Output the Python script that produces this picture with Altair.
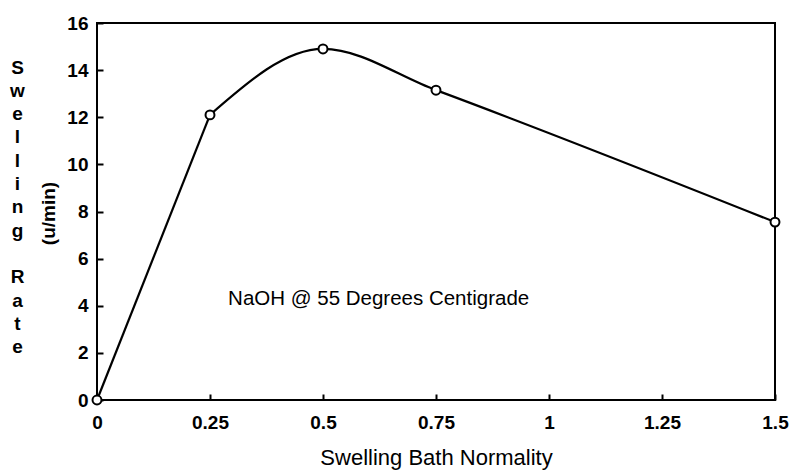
import altair as alt
import pandas as pd

# ---- data ----
normality = [0, 0.25, 0.5, 0.75, 1.5]
swelling_rate = [0, 12.1, 14.9, 13.15, 7.55]

x_ticks = [0, 0.25, 0.5, 0.75, 1, 1.25, 1.5]
y_ticks = [0, 2, 4, 6, 8, 10, 12, 14, 16]

ann_text = ["NaOH @ 55 Degrees Centigrade"]
ann_x = [0.29]
ann_y = [4.3]

x_title = "Swelling Bath Normality"
y_title_letters = ["S", "w", "e", "l", "l", "i", "n", "g", "\u200b", "R", "a", "t", "e"]
y_unit = "(u/min)"

df = pd.DataFrame({"x": normality, "y": swelling_rate})
ann = pd.DataFrame({"x": ann_x, "y": ann_y, "t": ann_text})

FONT = "Liberation Sans"

xs = alt.Scale(domain=[0, 1.5], nice=False, zero=False)
ys = alt.Scale(domain=[0, 16], nice=False, zero=False)

x_main = alt.X(
    "x:Q", scale=xs,
    axis=alt.Axis(
        orient="bottom", values=x_ticks, format=".2~f", domain=False,
        ticks=False, tickSize=0, grid=False, labelFont=FONT, labelFontSize=19,
        labelFontWeight="bold", labelColor="black", labelPadding=13,
        labelFlush=False,
        title=x_title, titleFont=FONT, titleFontSize=22, titleFontWeight="normal",
        titleColor="black", titleBaseline="alphabetic", titleY=64,
    ),
)
y_main = alt.Y(
    "y:Q", scale=ys,
    axis=alt.Axis(
        orient="left", values=y_ticks, domain=False, ticks=False, tickSize=0,
        grid=False, labelFont=FONT, labelFontSize=19, labelFontWeight="bold",
        labelColor="black", labelPadding=9, labelFlush=False,
        title=y_title_letters, titleAngle=0, titleFont=FONT, titleFontSize=19,
        titleFontWeight="bold", titleColor="black", titleLineHeight=23.3,
        titleAlign="center", titleBaseline="top", titleX=-80, titleY=35,
    ),
)

xn = alt.X("x:Q", scale=xs, axis=None)
yn = alt.Y("y:Q", scale=ys, axis=None)

base = alt.Chart(df)

rise = base.transform_filter(alt.datum.x <= 0.25).mark_line(
    color="black", strokeWidth=2.2
).encode(x=x_main, y=y_main)

smooth = base.transform_filter(alt.datum.x >= 0.25).mark_line(
    color="black", strokeWidth=2.2, interpolate="monotone"
).encode(x=xn, y=yn)

pts = base.mark_point(
    shape="circle", filled=True, fill="white", stroke="black",
    strokeWidth=2, size=80, opacity=1
).encode(x=xn, y=yn)

label = alt.Chart(ann).mark_text(
    font=FONT, fontSize=20.5, color="black", align="left", baseline="middle"
).encode(x=xn, y=yn, text="t:N")

# inward ticks: a second, shared-scale axis pulled inside the frame
ticks_layer = base.mark_point(opacity=0).encode(
    x=alt.X("x:Q", scale=xs, axis=alt.Axis(
        orient="bottom", offset=-6, values=x_ticks, domain=False, labels=False,
        ticks=True, tickSize=6, tickWidth=2, tickColor="black", grid=False,
        title=None)),
    y=alt.Y("y:Q", scale=ys, axis=alt.Axis(
        orient="left", offset=-6, values=y_ticks, domain=False, labels=False,
        ticks=True, tickSize=6, tickWidth=2, tickColor="black", grid=False,
        title=y_unit, titleAngle=270, titleFont=FONT, titleFontSize=19,
        titleFontWeight="bold", titleColor="black", titleAlign="center",
        titleBaseline="middle", titleX=-55, titleY=190)),
)

chart = alt.layer(rise, smooth, pts, label, ticks_layer).resolve_axis(
    x="independent", y="independent"
).properties(
    width=678, height=377,
    background="white",
    autosize=alt.AutoSizeParams(type="none"),
    padding={"left": 89, "top": 15, "right": 14, "bottom": 70},
).configure_view(stroke="black", strokeWidth=2)

chart.save("out.html", embed_options={"renderer": "svg", "actions": False})
